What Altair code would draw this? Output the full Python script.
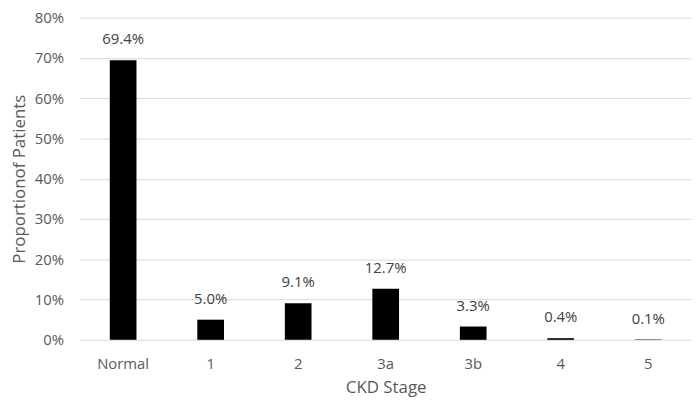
import altair as alt
import pandas as pd

stages = ["Normal", "1", "2", "3a", "3b", "4", "5"]
proportions = [0.694, 0.050, 0.091, 0.127, 0.033, 0.004, 0.001]
labels = ["69.4%", "5.0%", "9.1%", "12.7%", "3.3%", "0.4%", "0.1%"]

df = pd.DataFrame({"stage": stages, "value": proportions, "label": labels})

FONT = "Open Sans"

x = alt.X("stage:N", sort=stages, title="CKD Stage",
          scale=alt.Scale(paddingInner=0, paddingOuter=0),
          axis=alt.Axis(labelAngle=0, domain=False, ticks=False, grid=False,
                        labelPadding=17, labelFontSize=15, labelColor="#595959",
                        labelFont=FONT, titleFont=FONT, titleFontSize=17,
                        titleColor="#595959", titleFontWeight="normal", titlePadding=8))
y = alt.Y("value:Q", title="Proportionof Patients",
          scale=alt.Scale(domain=[0, 0.8], nice=False),
          axis=alt.Axis(format=".0%", values=[0, 0.1, 0.2, 0.3, 0.4, 0.5, 0.6, 0.7, 0.8],
                        domain=False, ticks=False, grid=True, gridColor="#d9d9d9",
                        gridWidth=1, labelPadding=16, labelFontSize=15,
                        labelColor="#595959", labelFont=FONT, titleFont=FONT,
                        titleFontSize=17, titleColor="#595959",
                        titleFontWeight="normal", titlePadding=6))

bars = alt.Chart(df).mark_bar(color="#000000", width=alt.RelativeBandSize(0.305)).encode(x=x, y=y)
text = alt.Chart(df).mark_text(baseline="bottom", dy=-13, fontSize=15, font=FONT,
                               color="#404040").encode(x=x, y=y, text="label:N")

chart = (bars + text).properties(
    width=618, height=325,
    autosize=alt.AutoSizeParams(type="none"),
    padding={"left": 72, "top": 8, "right": 0, "bottom": 60},
).configure_view(stroke=None)

chart.save("out.html", embed_options={"renderer": "svg", "actions": False})
